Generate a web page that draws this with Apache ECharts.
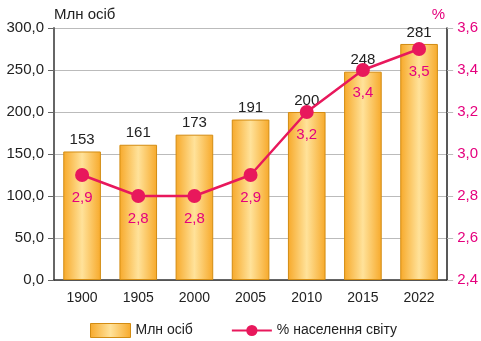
<!DOCTYPE html>
<html>
<head>
<meta charset="utf-8">
<script src="https://cdn.jsdelivr.net/npm/echarts@6/dist/echarts.min.js"></script>
<style>
  html, body { margin: 0; padding: 0; background: #fff; }
  #chart { width: 481px; height: 341px; }
</style>
</head>
<body>
<div id="chart"></div>
<script>
// Population figures by year
const years = ['1900', '1905', '2000', '2005', '2010', '2015', '2022'];
const millions = [153, 161, 173, 191, 200, 248, 281];
const sharePct = [2.9, 2.8, 2.8, 2.9, 3.2, 3.4, 3.5];

const FONT = '"Liberation Sans", Arial, sans-serif';
const MAGENTA = '#e5007d';
const LINE = '#e8185c';

const barFill = new echarts.graphic.LinearGradient(0, 0, 1, 0, [
  { offset: 0, color: '#f7a92a' },
  { offset: 0.5, color: '#ffe29a' },
  { offset: 1, color: '#f7a92a' }
]);

const fmt = v => v.toFixed(1).replace('.', ',');

const chart = echarts.init(document.getElementById('chart'));
chart.setOption({
  animation: false,
  textStyle: { fontFamily: FONT },
  grid: { left: 54, right: 33, top: 28, bottom: 61 },
  legend: {
    top: 318,
    left: 85,
    itemGap: 38,
    itemWidth: 40,
    itemHeight: 14,
    textStyle: { fontFamily: FONT, fontSize: 14, color: '#222' },
    data: [
      { name: 'Млн осіб', icon: 'rect', itemStyle: { color: barFill, borderColor: '#d38c12', borderWidth: 1 } },
      { name: '% населення світу' }
    ]
  },
  xAxis: {
    type: 'category',
    data: years,
    axisLine: { lineStyle: { color: '#333', width: 1.5 } },
    axisTick: { show: false },
    axisLabel: { color: '#222', fontSize: 14, fontFamily: FONT, margin: 11 }
  },
  yAxis: [
    {
      type: 'value',
      min: 0, max: 300, interval: 50,
      name: 'Млн осіб',
      nameGap: 6,
      nameTextStyle: { color: '#222', fontSize: 15, fontFamily: FONT, align: 'left' },
      axisLine: { show: true, lineStyle: { color: '#666', width: 2 } },
      axisTick: { show: true, length: 6, lineStyle: { color: '#666' } },
      axisLabel: { color: '#222', fontSize: 15, fontFamily: FONT, margin: 10, formatter: fmt },
      splitLine: { lineStyle: { color: '#bbb', width: 1 } }
    },
    {
      type: 'value',
      min: 2.4, max: 3.6, interval: 0.2,
      name: '%',
      nameGap: 6,
      nameTextStyle: { color: MAGENTA, fontSize: 15, fontFamily: FONT, align: 'right', padding: [0, 2, 0, 0] },
      axisLine: { show: true, lineStyle: { color: '#222', width: 1.5 } },
      axisTick: { show: true, length: 6, lineStyle: { color: '#bbb' } },
      axisLabel: { color: MAGENTA, fontSize: 15, fontFamily: FONT, margin: 10, formatter: fmt },
      splitLine: { show: false }
    }
  ],
  series: [
    {
      name: 'Млн осіб',
      type: 'bar',
      barWidth: '67%',
      data: millions,
      itemStyle: { color: barFill, borderColor: '#d38c12', borderWidth: 1 },
      label: { show: true, position: 'top', distance: 4, color: '#222', fontSize: 15, fontFamily: FONT }
    },
    {
      name: '% населення світу',
      type: 'line',
      yAxisIndex: 1,
      data: sharePct,
      symbol: 'circle',
      symbolSize: 14,
      color: LINE,
      lineStyle: { color: LINE, width: 2.5 },
      itemStyle: { color: LINE },
      label: {
        show: true, position: 'bottom', distance: 8,
        color: MAGENTA, fontSize: 15, fontFamily: FONT,
        formatter: p => fmt(p.value)
      },
      z: 5
    }
  ]
});
</script>
</body>
</html>
